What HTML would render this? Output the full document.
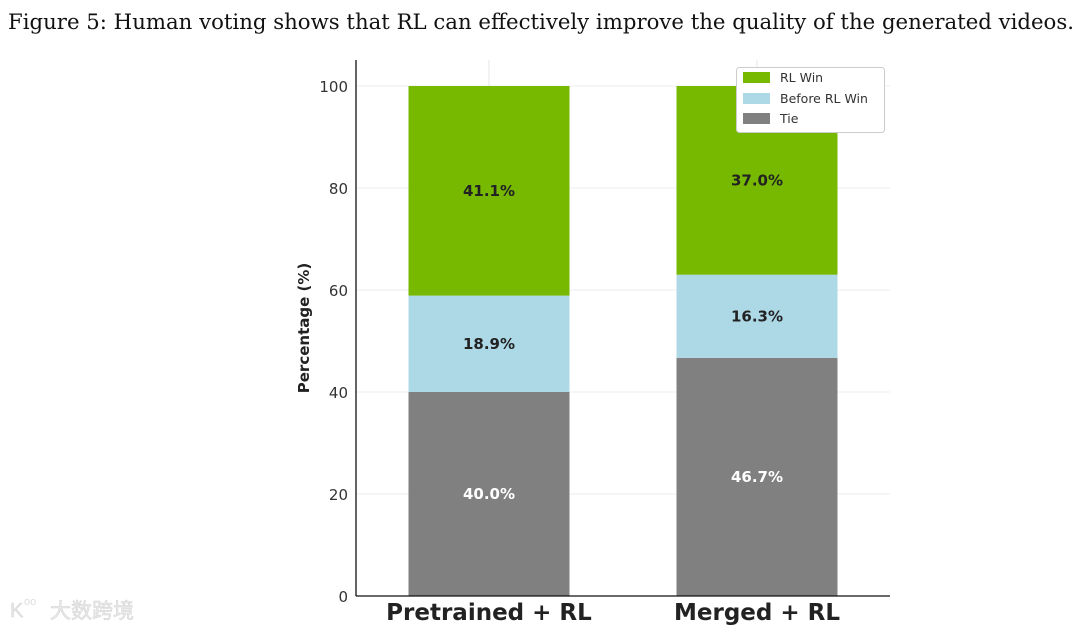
<!DOCTYPE html>
<html><head><meta charset="utf-8"><style>
body{margin:0;background:#fff;width:1080px;height:630px;overflow:hidden}
</style></head><body>
<svg width="1080" height="630" viewBox="0 0 1080 630" xmlns="http://www.w3.org/2000/svg">
<text x="8" y="29" textLength="1066" lengthAdjust="spacingAndGlyphs" font-family="DejaVu Serif, Liberation Serif, serif" font-size="21" fill="#111">Figure 5: Human voting shows that RL can effectively improve the quality of the generated videos.</text>
<g id="grid"></g>
<g id="bars"></g>
<g id="labels"></g>
<line x1="356" y1="60" x2="356" y2="596" stroke="#111" stroke-width="1.3"/>
<line x1="356" y1="596" x2="890" y2="596" stroke="#111" stroke-width="1.3"/>
<text transform="translate(309,328) rotate(-90)" text-anchor="middle" font-family="DejaVu Sans, sans-serif" font-weight="bold" font-size="15" fill="#222">Percentage (%)</text>
<g>
<rect x="736.5" y="67.5" width="148" height="65" rx="3" fill="#fff" stroke="#ccc"/>
<rect x="743" y="72" width="27" height="11" fill="#76b900"/>
<text x="780" y="82" font-family="DejaVu Sans, sans-serif" font-size="12.5" fill="#333">RL Win</text>
<rect x="743" y="93" width="27" height="11" fill="#add8e6"/>
<text x="780" y="103" font-family="DejaVu Sans, sans-serif" font-size="12.5" fill="#333">Before RL Win</text>
<rect x="743" y="113" width="27" height="11" fill="#808080"/>
<text x="780" y="123" font-family="DejaVu Sans, sans-serif" font-size="12.5" fill="#333">Tie</text>
</g>
<g opacity="0.4">
<text x="10" y="617" font-family="Liberation Sans, sans-serif" font-size="20" fill="#bbb" stroke="#999" stroke-width="0.5">K</text>
<text x="24" y="605" font-family="Liberation Sans, sans-serif" font-size="11" fill="#aaa">oo</text>
<text x="50" y="618" font-family="Liberation Sans, 'Noto Sans CJK SC', sans-serif" font-size="21" fill="#ccc" stroke="#999" stroke-width="0.6">大数跨境</text>
</g>
</svg>
<script>
const categories=["Pretrained + RL","Merged + RL"];
const tieVals=[40.0,46.7];
const beforeVals=[18.9,16.3];
const rlVals=[41.1,37.0];
const yTicks=[0,20,40,60,80,100];
const ns="http://www.w3.org/2000/svg";
const y=v=>596-v*5.1;
const cx=i=>489+i*268;
const bw=161;
function mk(tag,attrs,parent){const e=document.createElementNS(ns,tag);for(const k in attrs)e.setAttribute(k,attrs[k]);parent.appendChild(e);return e;}
const grid=document.getElementById('grid'),bars=document.getElementById('bars'),labels=document.getElementById('labels');
yTicks.forEach(t=>{
 const l=mk('line',{x1:356,x2:890,y1:y(t),y2:y(t),stroke:'#eee','stroke-width':1},grid);
 
 
 const tx=mk('text',{x:348,y:y(t)+6,'text-anchor':'end','font-family':'DejaVu Sans, sans-serif','font-size':15,fill:'#333'},grid);
 tx.textContent=t;
 
 
});
categories.forEach((c,i)=>{
 const vl=mk('line',{x1:cx(i),x2:cx(i),y1:60,y2:596,stroke:'#e6e6e6','stroke-width':1},grid);
 
 
 const segs=[[tieVals[i],'#808080','#fff','tie'],[beforeVals[i],'#add8e6','#222','before-rl-win'],[rlVals[i],'#76b900','#222','rl-win']];
 let base=0;
 segs.forEach(s=>{
  const r=mk('rect',{x:cx(i)-bw/2,y:y(base+s[0]),width:bw,height:s[0]*5.1,fill:s[1]},bars);
  
  
  const t=mk('text',{x:cx(i),y:y(base+s[0]/2)+5,'text-anchor':'middle','font-family':'DejaVu Sans, sans-serif','font-weight':'bold','font-size':15,fill:s[2]},labels);
  t.textContent=s[0].toFixed(1)+'%';
  
  
  base+=s[0];
 });
 const xl=mk('text',{x:cx(i),y:620,'text-anchor':'middle','font-family':'DejaVu Sans, sans-serif','font-weight':'bold','font-size':23,fill:'#222'},labels);
 xl.textContent=c;
 
 
});
</script>
</body></html>
